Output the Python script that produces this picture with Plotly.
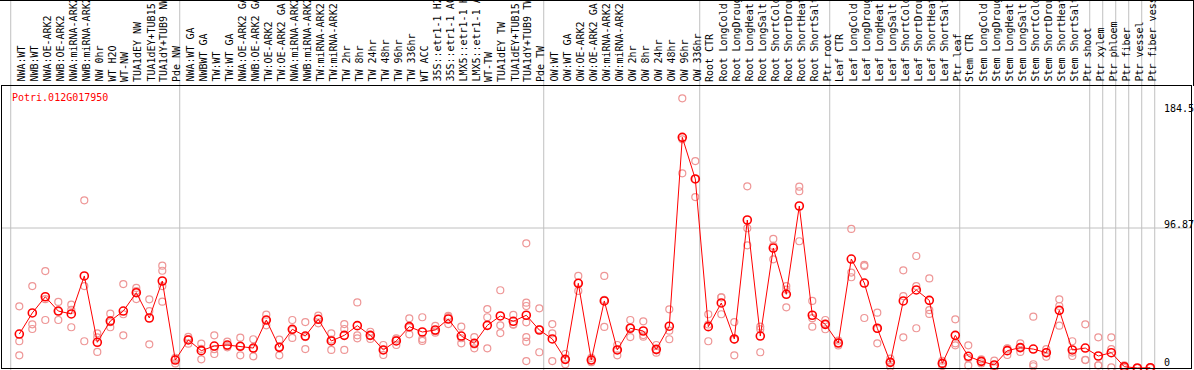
import plotly.graph_objects as go

W, H = 1194, 370

gene = "Potri.012G017950"

labels = [
    "NWA:WT", "NWB:WT", "NWA:OE-ARK2", "NWB:OE-ARK2", "NWA:miRNA-ARK2", "NWB:miRNA-ARK2",
    "NW 0hr", "WT H2O", "WT-NW", "TUA1dEY NW", "TUA1dEY+TUB15", "TUA1dY+TUB9 NW", "Pde NW",
    "NWA:WT GA", "NWBWT GA", "TW:WT", "TW:WT GA", "NWA:OE-ARK2 GA", "NWB:OE-ARK2 GA",
    "TW:OE-ARK2", "TW:OE-ARK2 GA", "NWA:miRNA-ARK2", "NWB:miRNA-ARK2", "TW:miRNA-ARK2",
    "TW:miRNA-ARK2", "TW 2hr", "TW 8hr", "TW 24hr", "TW 48hr", "TW 96hr", "TW 336hr",
    "WT ACC", "35S::etr1-1 H2O", "35S::etr1-1 ACC", "LMX5::etr1-1 H2O", "LMX5::etr1-1 ACC",
    "WT-TW", "TUA1dEY TW", "TUA1dEY+TUB15", "TUA1dY+TUB9 TW", "Pde TW",
    "OW:WT", "OW:WT GA", "OW:OE-ARK2", "OW:OE-ARK2 GA", "OW:miRNA-ARK2", "OW:miRNA-ARK2",
    "OW 2hr", "OW 8hr", "OW 24hr", "OW 48hr", "OW 96hr", "OW 336hr",
    "Root CTR", "Root LongCold", "Root LongDrought", "Root LongHeat", "Root LongSalt",
    "Root ShortCold", "Root ShortDrought", "Root ShortHeat", "Root ShortSalt", "Ptr root",
    "Leaf CTR", "Leaf LongCold", "Leaf LongDrought", "Leaf LongHeat", "Leaf LongSalt",
    "Leaf ShortCold", "Leaf ShortDrought", "Leaf ShortHeat", "Leaf ShortSalt", "Ptr leaf",
    "Stem CTR", "Stem LongCold", "Stem LongDrought", "Stem LongHeat", "Stem LongSalt",
    "Stem ShortCold", "Stem ShortDrought", "Stem ShortHeat", "Stem ShortSalt", "Ptr shoot",
    "Ptr xylem", "Ptr phloem", "Ptr fiber", "Ptr vessel", "Ptr fiber vessel",
]

means = [
    23.5, 38.1, 49.3, 39.4, 37.4, 63.7, 17.8, 32.5, 39.4, 52.1, 34.6, 60.2, 5.5,
    19.4, 12.0, 15.2, 15.9, 15.0, 13.8, 33.2, 14.3, 26.8, 22.1, 33.7, 18.7, 22.6,
    29.3, 22.6, 12.5, 18.7, 28.6, 24.9, 26.3, 33.9, 22.1, 17.1, 29.5, 36.0, 32.3,
    36.5, 26.3,
    20.1, 6.0, 58.6, 5.5, 46.4, 12.5, 27.5, 25.6, 12.9, 28.9, 159.6, 130.8,
    28.6, 45.0, 20.1, 102.4, 22.1, 83.0, 51.0, 112.1, 36.5, 30.2,
    17.3, 75.4, 58.8, 27.5, 3.9, 46.4, 54.0, 46.8, 3.2, 22.6,
    8.1, 4.6, 2.1, 12.0, 14.1, 13.1, 10.6, 39.9, 12.5, 13.8,
    8.3, 10.6, 0.9, 0.0, 0.2,
]

replicates = [
    [42.7, 18.5, 8.8], [56.7, 30.2, 27.0], [67.1, 47.6, 33.2], [45.7, 39.3, 33.2],
    [43.8, 40.2, 28.2], [116.0, 56.7, 18.5], [24.0, 21.2, 11.1], [37.6, 31.7, 28.2],
    [58.1, 37.2, 22.6], [55.4, 53.2, 47.7], [47.5, 39.4, 16.4], [70.8, 67.3, 56.7, 45.9],
    [7.1, 6.2, 3.2],
    [21.5, 20.0, 16.8], [16.8, 13.2, 6.0], [22.6, 13.0, 9.7], [18.2, 15.2, 14.3],
    [21.0, 15.2, 8.8], [19.9, 13.4, 8.1], [36.9, 33.2, 29.5], [19.6, 14.5, 8.8],
    [33.2, 26.4, 20.8], [31.8, 21.4, 13.1], [36.2, 33.9, 30.9], [24.0, 19.6, 12.5],
    [30.4, 27.0, 12.5], [45.4, 22.6, 20.5], [25.1, 22.6, 20.1], [15.9, 12.6, 9.0],
    [20.5, 19.7, 15.9], [34.4, 28.1, 23.3], [35.1, 20.1, 18.7], [29.1, 25.4, 24.4],
    [36.0, 35.3, 30.4], [28.6, 20.6, 17.1], [21.4, 16.3, 13.6], [40.8, 35.1, 13.6],
    [53.8, 29.5, 24.2], [36.7, 30.2, 30.0], [86.3, 45.2, 42.9, 31.6, 21.4, 18.2, 4.8],
    [41.3, 26.7, 10.9],
    [30.4, 24.0, 4.8], [9.7, 5.7, 2.6], [63.7, 58.8, 53.3], [7.0, 5.5, 4.0],
    [63.7, 47.1, 28.4], [15.9, 12.8, 8.8], [33.2, 27.9, 21.4], [32.3, 22.8, 21.7],
    [15.9, 12.2, 10.6], [40.6, 25.8, 19.9], [186.6, 158.2, 134.7], [143.2, 130.8, 118.3],
    [37.2, 30.1, 18.5], [48.9, 48.9, 37.2], [31.8, 19.7, 8.8], [125.7, 96.7, 84.9],
    [28.6, 26.8, 10.9], [89.3, 84.5, 75.2], [56.7, 54.3, 42.0], [125.5, 122.3, 87.7],
    [46.4, 34.5, 28.6], [33.2, 30.6, 26.8],
    [19.0, 17.3, 15.6], [96.2, 66.0, 62.8], [71.3, 70.5, 34.6], [38.3, 27.1, 17.1],
    [6.5, 4.3, 0.9], [67.6, 49.8, 21.2], [77.5, 56.7, 27.5], [62.0, 40.1, 37.4],
    [5.0, 3.2, 1.4], [33.7, 17.1, 15.7],
    [15.7, 6.8, 1.8], [6.0, 4.6, 3.2], [5.1, 1.2, 0.0], [13.6, 13.4, 9.0],
    [17.1, 14.1, 11.1], [35.5, 2.6, 1.2], [13.1, 10.9, 7.8], [47.5, 42.9, 29.3],
    [18.5, 10.7, 8.3], [30.2, 5.7, 5.5],
    [21.2, 1.9, 1.8], [21.2, 13.1, 0.5], [1.8, 0.9, 0.0], [0.0, 0.0, 0.0], [0.5, 0.2, 0.0],
]

# group boundaries (index of first category of each block)
group_starts = [0, 13, 41, 53, 63, 73, 83, 84, 85, 86, 87, 88]

axis_ticks = [184.5, 96.87, 0]
axis_tick_px = [108, 224, 362]

gridline_value = 96.87

# ---- pixel geometry helpers ----
X0PX, XSTEP = 19.3, 13.0        # centre of first column, column width
Y0PX, YSCALE = 368.0, 1.4452     # pixel of value 0, px per unit
FONT = "DejaVu Sans Mono"

xr = [(0 - X0PX) / XSTEP, (W - X0PX) / XSTEP]
yr = [(Y0PX - H) / YSCALE, Y0PX / YSCALE]

def px(xpix):
    return xpix / W

def py(ypix):
    return 1 - ypix / H

xs = list(range(len(labels)))
rx, ry = [], []
for i, vals in enumerate(replicates):
    for v in vals:
        rx.append(i)
        ry.append(v)

fig = go.Figure()
fig.add_trace(go.Scatter(
    x=rx, y=ry, mode="markers",
    marker=dict(symbol="circle-open", size=7, color="rgb(238,150,150)",
                line=dict(width=1.2, color="rgb(238,150,150)")),
    hoverinfo="skip", showlegend=False,
))
fig.add_trace(go.Scatter(
    x=xs, y=means, mode="lines+markers",
    line=dict(color="#ff0000", width=1),
    marker=dict(symbol="circle-open", size=8, color="#ff0000",
                line=dict(width=1.6, color="#ff0000")),
    showlegend=False,
))

shapes = []
# vertical grey group separators
for b in group_starts:
    xb = b - 0.66
    shapes.append(dict(type="line", xref="x", yref="paper", x0=xb, x1=xb,
                       y0=0, y1=1, line=dict(color="#c0c0c0", width=1), layer="below"))
# horizontal grey gridline
shapes.append(dict(type="line", xref="paper", yref="y", x0=px(1), x1=px(1192),
                   y0=gridline_value, y1=gridline_value,
                   line=dict(color="#c0c0c0", width=1), layer="below"))
# black frame lines
for (x0, y0, x1, y1) in [(1, 85.5, 1192, 85.5), (1, 368.5, 1192, 368.5),
                         (1.5, 85, 1.5, 369), (1191.5, 85, 1191.5, 369),
                         (0, 0.5, 1194, 0.5), (1193.5, 0, 1193.5, 86)]:
    shapes.append(dict(type="line", xref="paper", yref="paper",
                       x0=px(x0), x1=px(x1), y0=py(y0), y1=py(y1),
                       line=dict(color="black", width=1)))

annotations = []
for i, lab in enumerate(labels):
    annotations.append(dict(
        x=i + 0.1, y=py(84), xref="x", yref="paper", text=lab, showarrow=False,
        textangle=-90, xanchor="center", yanchor="bottom",
        font=dict(family=FONT, size=10, color="black")))

annotations.append(dict(x=px(10), y=py(97), xref="paper", yref="paper", text=gene,
                        showarrow=False, xanchor="left", yanchor="middle",
                        font=dict(family=FONT, size=10, color="#ff0000")))
for t, tp in zip(axis_ticks, axis_tick_px):
    annotations.append(dict(x=px(1162), y=py(tp), xref="paper", yref="paper",
                            text=str(t), showarrow=False, xanchor="left",
                            yanchor="middle",
                            font=dict(family=FONT, size=10, color="black")))

fig.update_layout(
    width=W, height=H, margin=dict(l=0, r=0, t=0, b=0),
    paper_bgcolor="white", plot_bgcolor="white",
    xaxis=dict(range=xr, visible=False, showgrid=False, zeroline=False, fixedrange=True),
    yaxis=dict(range=yr, visible=False, showgrid=False, zeroline=False, fixedrange=True),
    shapes=shapes, annotations=annotations, showlegend=False,
)

fig.write_html(
    "out.html",
    config={"displayModeBar": False},
    post_script="document.body.style.margin='0';document.body.style.overflow='hidden';",
)
